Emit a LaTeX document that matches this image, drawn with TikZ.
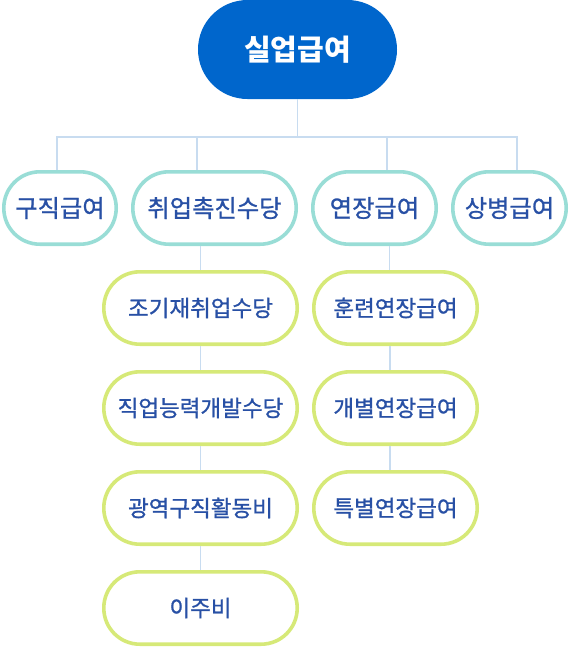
\documentclass[tikz,border=0pt]{standalone}
\usepackage{fontspec}
\usepackage{xcolor}
\usepackage{tikz}
\usetikzlibrary{positioning}
\setmainfont{Noto Sans CJK KR}
\newfontfamily\medfont{Noto Sans CJK KR}[FakeBold=0.9]
\definecolor{rootblue}{RGB}{0,102,204}
\definecolor{tealline}{RGB}{153,221,214}
\definecolor{limeline}{RGB}{214,233,120}
\definecolor{textblue}{RGB}{40,80,165}
\definecolor{linkblue}{RGB}{200,220,240}

\begin{document}
\begin{tikzpicture}[x=1pt, y=-1pt, node distance=100pt,
  rootbox/.style={rectangle, rounded corners=49.5pt, fill=rootblue, text=white,
    minimum height=99pt, font=\fontsize{29}{34}\selectfont\bfseries},
  mainbox/.style={rectangle, rounded corners=36pt, draw=tealline, line width=3.6pt,
    fill=white, text=textblue, minimum height=72.4pt, inner xsep=0pt,
    font=\medfont\fontsize{24.3}{28}\selectfont},
  subbox/.style={rectangle, rounded corners=36pt, draw=limeline, line width=3.6pt,
    fill=white, text=textblue, minimum height=72.4pt, inner xsep=0pt,
    font=\medfont\fontsize{22.5}{26}\selectfont},
  link/.style={draw=linkblue, line width=1.8pt}]
\useasboundingbox (0,0) rectangle (570,649);

% top
\node[rootbox, minimum width=199pt] (root) at (297.5,49.5) {실업급여};

% first row
\node[mainbox, minimum width=112.4pt] (jobseek) at (60,208) {구직급여};
\node[mainbox, minimum width=163.4pt] (promo) at (214.5,208) {취업촉진수당};
\node[mainbox, minimum width=123.4pt] (ext) at (374.5,208) {연장급여};
\node[mainbox, minimum width=113.4pt] (sick) at (509.5,208) {상병급여};

% left column
\node[subbox, minimum width=193.4pt] (reemploy) at (200.5,308) {조기재취업수당};
\node[subbox, minimum width=193.4pt, below of=reemploy] (skill) {직업능력개발수당};
\node[subbox, minimum width=193.4pt, below of=skill] (search) {광역구직활동비};
\node[subbox, minimum width=193.4pt, below of=search] (moving) {이주비};

% right column
\node[subbox, minimum width=163.4pt] (training) at (395.5,308) {훈련연장급여};
\node[subbox, minimum width=163.4pt, below of=training] (individual) {개별연장급여};
\node[subbox, minimum width=163.4pt, below of=individual] (special) {특별연장급여};

% connectors
\coordinate (bus) at (0,137);
\draw[link] (root.south) -- (root.south |- bus);
\draw[link] ([xshift=-3pt]jobseek.north) |- ([xshift=7.5pt]sick.north |- bus)
  -- ([xshift=7.5pt]sick.north);
\draw[link] ([xshift=-17.5pt]promo.north) -- ([xshift=-17.5pt]promo.north |- bus);
\draw[link] ([xshift=12.5pt]ext.north) -- ([xshift=12.5pt]ext.north |- bus);

\draw[link] (reemploy.north |- promo.south) -- (reemploy.north);
\draw[link] (reemploy.south) -- (skill.north);
\draw[link] (skill.south) -- (search.north);
\draw[link] (search.south) -- (moving.north);

\draw[link] ([xshift=15pt]ext.south) -- ([xshift=15pt]ext.south |- training.north);
\draw[link] ([xshift=-5.5pt]training.south) -- ([xshift=-5.5pt]individual.north);
\draw[link] ([xshift=-5.5pt]individual.south) -- ([xshift=-5.5pt]special.north);
\end{tikzpicture}
\end{document}
